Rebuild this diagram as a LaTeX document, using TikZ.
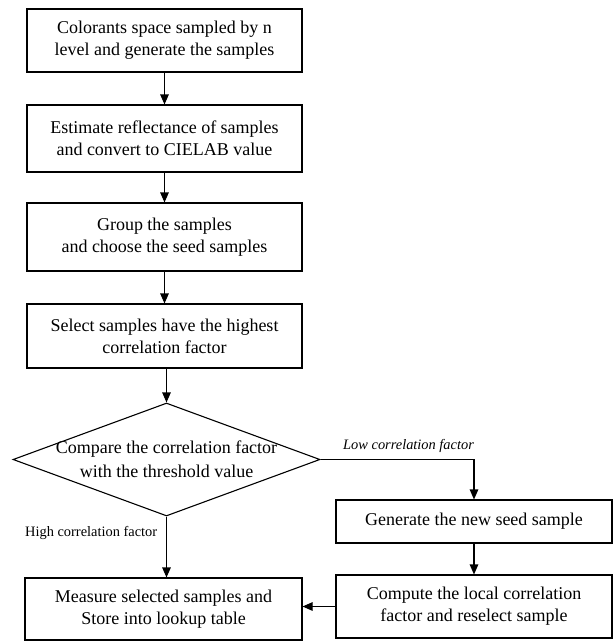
\documentclass[tikz,border=0pt]{standalone}
\usepackage{fontspec}
\setmainfont{Liberation Serif}
\usetikzlibrary{shapes.geometric,arrows.meta}
\begin{document}
\begin{tikzpicture}[x=1pt,y=1pt,
  stepbox/.style={draw,line width=1.1pt,inner sep=0pt,minimum width=275pt,align=center,font=\fontsize{18}{22}\selectfont},
  arr/.style={line width=1.1pt,-{Triangle[length=10pt,width=8.5pt]}},
  lbl/.style={inner sep=0pt,font=\fontsize{14.4}{17}\selectfont}]
\useasboundingbox (0,0) rectangle (613,-642);
\node[stepbox,minimum height=63pt] (b1) at (164.5,-40.5) {Colorants space sampled by n\\level and generate the samples};
\node[stepbox,minimum height=67pt] (b2) at (164.5,-138.5) {Estimate reflectance of samples\\and convert to CIELAB value};
\node[stepbox,minimum height=68pt] (b3) at (164.5,-237) {Group the samples\\and choose the seed samples};
\node[stepbox,minimum height=64pt] (b4) at (164.5,-336) {Select samples have the highest\\correlation factor};
\node[draw,line width=1.1pt,diamond,inner sep=0pt,minimum width=307pt,minimum height=113pt] (dia) at (166.5,-459.5) {};
\node[align=center,inner sep=0pt,font=\fontsize{18}{24}\selectfont] (diat) at (dia.center) {Compare the correlation factor\\with the threshold value};
\node[stepbox,minimum width=276pt,minimum height=43pt] (gen) at (474,-521.5) {Generate the new seed sample};
\node[stepbox,minimum width=276pt,minimum height=63pt] (comp) at (474,-606.5) {Compute the local correlation\\factor and reselect sample};
\node[stepbox,minimum width=277pt,minimum height=62pt] (meas) at (163.5,-609) {Measure selected samples and\\Store into lookup table};
\node[lbl,anchor=west,font=\fontsize{14.4}{17}\selectfont\itshape] (low) at (343,-446) {Low correlation factor};
\node[lbl,anchor=west] (high) at (25,-533) {High correlation factor};
\draw[arr] (b1) -- (b2);
\draw[arr] (b2) -- (b3);
\draw[arr] (b3) -- (b4);
\draw[arr] (b4.south -| dia.north) -- (dia.north);
\draw[arr] (dia.east) -| (gen.north);
\draw[arr] (gen) -- (comp);
\draw[arr] (comp.west) -- (comp.west -| meas.east);
\draw[arr] (dia.south) -- (dia.south |- meas.north);
\end{tikzpicture}
\end{document}
